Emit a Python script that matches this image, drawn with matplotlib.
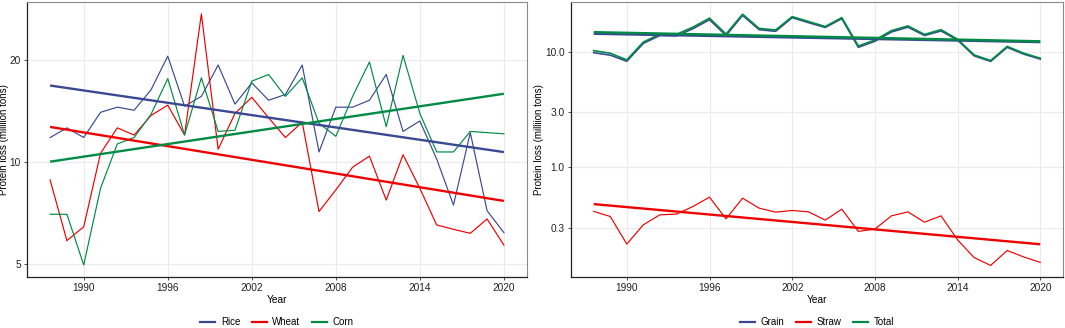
import numpy as np
import matplotlib
matplotlib.use("Agg")
import matplotlib.pyplot as plt

plt.rcParams['font.family'] = ['Liberation Sans', 'DejaVu Sans']

# x positions of the 28 observations (as plotted)
years = [1987.6, 1988.8, 1990.0, 1991.2, 1992.4, 1993.6, 1994.8, 1996.0, 1997.2, 1998.4,
         1999.6, 2000.8, 2002.0, 2003.2, 2004.4, 2005.6, 2006.8, 2008.0, 2009.2, 2010.4,
         2011.6, 2012.8, 2014.0, 2015.2, 2016.4, 2017.6, 2018.8, 2020.0]

rice = [11.8, 12.6, 11.8, 14.0, 14.5, 14.2, 16.3, 20.5, 14.6, 15.6,
        19.3, 14.8, 17.1, 15.2, 15.8, 19.3, 10.7, 14.5, 14.5, 15.2,
        18.1, 12.3, 13.2, 10.2, 7.46, 12.2, 7.18, 6.19]
wheat = [8.85, 5.86, 6.44, 10.6, 12.6, 12.0, 13.7, 14.7, 12.0, 27.3,
         10.9, 13.9, 15.5, 13.5, 11.8, 13.1, 7.14, 8.27, 9.65, 10.4,
         7.72, 10.5, 8.36, 6.52, 6.33, 6.16, 6.79, 5.69]
corn = [7.01, 7.01, 4.97, 8.36, 11.3, 11.8, 13.8, 17.6, 12.0, 17.7,
        12.3, 12.4, 17.3, 18.1, 15.6, 17.7, 13.0, 11.9, 15.6, 19.7,
        12.7, 20.6, 13.9, 10.7, 10.7, 12.3, 12.2, 12.1]

total = [10.2, 9.69, 8.48, 12.1, 14.2, 14.1, 16.3, 19.5, 14.2, 21.1,
         15.9, 15.4, 20.1, 18.2, 16.5, 19.7, 11.2, 12.6, 15.2, 16.7,
         14.1, 15.5, 12.8, 9.37, 8.37, 11.1, 9.69, 8.77]
straw = [0.414, 0.374, 0.216, 0.317, 0.387, 0.392, 0.457, 0.550, 0.357, 0.539,
         0.442, 0.408, 0.422, 0.410, 0.348, 0.433, 0.278, 0.291, 0.379, 0.410,
         0.334, 0.379, 0.235, 0.165, 0.141, 0.190, 0.167, 0.150]
grain = [9.79, 9.32, 8.26, 11.8, 13.8, 13.7, 15.8, 18.9, 13.8, 20.6,
         15.5, 15.0, 19.7, 17.8, 16.2, 19.3, 10.9, 12.3, 14.8, 16.3,
         13.8, 15.1, 12.6, 9.2, 8.23, 10.9, 9.52, 8.62]

xticks = [1990, 1996, 2002, 2008, 2014, 2020]
left_yticks = [5, 10, 20]
left_ylabels = ["5", "10", "20"]
right_yticks = [0.3, 1.0, 3.0, 10.0]
right_ylabels = ["0.3", "1.0", "3.0", "10.0"]

BLUE = "#3B4992"
RED = "#EE0000"
GREEN = "#008B45"

fig = plt.figure(figsize=(10.65, 3.28), dpi=100)
ax1 = fig.add_axes([27/1065, 1 - 277/328, 500/1065, 275/328])
ax2 = fig.add_axes([571/1065, 1 - 277/328, 492/1065, 275/328])

x = np.array(years)


def trend(ax, y, color):
    y = np.array(y)
    p = np.polyfit(x, np.log10(y), 1)
    xs = np.array([x[0], x[-1]])
    ax.plot(xs, 10 ** np.polyval(p, xs), color=color, lw=1.7, solid_capstyle='butt', zorder=4)


def style(ax, yt, yl, ylim, ylab_x):
    ax.set_yscale('log')
    ax.set_xlim(1985.95, 2021.65)
    ax.set_ylim(*ylim)
    ax.set_xticks(xticks)
    ax.set_xticklabels([str(t) for t in xticks])
    ax.set_yticks(yt)
    ax.set_yticklabels(yl)
    ax.yaxis.set_minor_locator(matplotlib.ticker.NullLocator())
    ax.grid(True, color="#EBEBEB", lw=0.8, zorder=0)
    ax.set_axisbelow(True)
    ax.tick_params(axis='both', labelsize=7.3, length=2.5, width=0.6, colors="#333333", pad=2)
    ax.tick_params(axis='both', labelcolor="#222222")
    for s in ['top', 'right']:
        ax.spines[s].set_color("#8a8a8a")
        ax.spines[s].set_linewidth(0.8)
    for s in ['left', 'bottom']:
        ax.spines[s].set_color("#222222")
        ax.spines[s].set_linewidth(0.9)
    ax.set_xlabel("Year", fontsize=7.3, labelpad=1)
    ax.set_ylabel("Protein loss (milliion tons)", fontsize=7.0)
    ax.yaxis.set_label_coords(ylab_x, 0.5)


# Left panel
l1, = ax1.plot(x, rice, color=BLUE, lw=0.85, label="Rice", zorder=3)
l2, = ax1.plot(x, wheat, color=RED, lw=0.85, label="Wheat", zorder=3)
l3, = ax1.plot(x, corn, color=GREEN, lw=0.85, label="Corn", zorder=3)
trend(ax1, rice, BLUE)
trend(ax1, wheat, RED)
trend(ax1, corn, GREEN)
style(ax1, left_yticks, left_ylabels, (4.58, 29.6), (9 - 27) / 500)

# Right panel
r1, = ax2.plot(x, grain, color=BLUE, lw=1.2, label="Grain", zorder=3)
r2, = ax2.plot(x, straw, color=RED, lw=0.85, label="Straw", zorder=3)
r3, = ax2.plot(x, total, color=GREEN, lw=1.2, label="Total", zorder=3)
trend(ax2, grain, BLUE)
trend(ax2, straw, RED)
trend(ax2, total, GREEN)
style(ax2, right_yticks, right_ylabels, (0.112, 26.9), (544 - 571) / 492)

for ax in (ax1, ax2):
    leg = ax.legend(loc='center', bbox_to_anchor=(0.5, -0.165), ncol=3, frameon=False,
                    fontsize=7, handlelength=1.5, columnspacing=1.2, handletextpad=0.6)
    for h in leg.get_lines():
        h.set_linewidth(1.6)

fig.savefig("out.png", dpi=100)
